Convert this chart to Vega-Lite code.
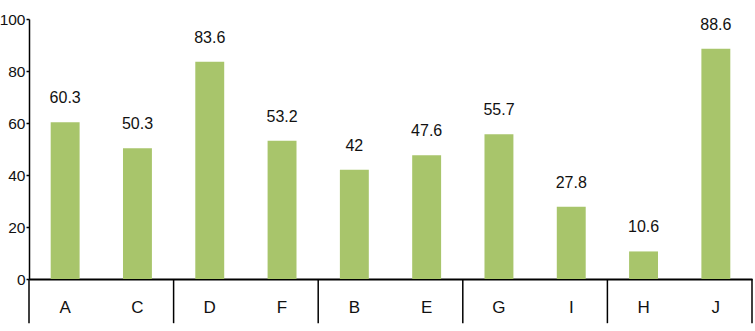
{
  "$schema": "https://vega.github.io/schema/vega-lite/v6.json",
  "autosize": "none",
  "width": 723,
  "height": 260,
  "padding": {"left": 29, "top": 19, "right": 3, "bottom": 52},
  "background": "white",
  "config": {
    "view": {"stroke": null},
    "font": "Liberation Sans"
  },
  "data": {
    "values": [
      {"cat": "A", "value": 60.3},
      {"cat": "C", "value": 50.3},
      {"cat": "D", "value": 83.6},
      {"cat": "F", "value": 53.2},
      {"cat": "B", "value": 42},
      {"cat": "E", "value": 47.6},
      {"cat": "G", "value": 55.7},
      {"cat": "I", "value": 27.8},
      {"cat": "H", "value": 10.6},
      {"cat": "J", "value": 88.6}
    ]
  },
  "layer": [
    {
      "mark": {"type": "bar", "color": "#a8c56b", "width": {"band": 0.4}},
      "encoding": {
        "x": {
          "field": "cat", "type": "nominal", "sort": null,
          "scale": {"paddingInner": 0, "paddingOuter": 0},
          "axis": {
            "title": null, "labelAngle": 0, "ticks": false,
            "domainColor": "#000", "domainWidth": 2,
            "labelFont": "Liberation Sans", "labelFontSize": 17,
            "labelColor": "#111", "labelPadding": 20
          }
        },
        "y": {
          "field": "value", "type": "quantitative",
          "scale": {"domain": [0, 100], "nice": false},
          "axis": {
            "title": null, "values": [0, 20, 40, 60, 80, 100],
            "grid": false, "domainColor": "#000", "domainWidth": 1.5,
            "tickColor": "#000", "tickSize": 3, "tickWidth": 1.5,
            "labelFont": "Liberation Sans", "labelFontSize": 15.5,
            "labelColor": "#111", "labelPadding": 1
          }
        }
      }
    },
    {
      "mark": {"type": "text", "baseline": "bottom", "dy": -16, "fontSize": 16, "color": "#111", "font": "Liberation Sans"},
      "encoding": {
        "x": {"field": "cat", "type": "nominal", "sort": null},
        "y": {"field": "value", "type": "quantitative"},
        "text": {"field": "value", "type": "quantitative"}
      }
    },
    {
      "data": {"values": [{"cat": "A"}, {"cat": "D"}, {"cat": "B"}, {"cat": "G"}, {"cat": "H"}]},
      "mark": {"type": "rule", "color": "#000", "strokeWidth": 1.5},
      "encoding": {
        "x": {"field": "cat", "type": "nominal", "sort": null, "bandPosition": 0},
        "y": {"datum": 0, "type": "quantitative"},
        "y2": {"datum": -17}
      }
    },
    {
      "data": {"values": [{"cat": "J"}]},
      "mark": {"type": "rule", "color": "#000", "strokeWidth": 1.5},
      "encoding": {
        "x": {"field": "cat", "type": "nominal", "sort": null, "bandPosition": 1},
        "y": {"datum": 0, "type": "quantitative"},
        "y2": {"datum": -17}
      }
    }
  ]
}
